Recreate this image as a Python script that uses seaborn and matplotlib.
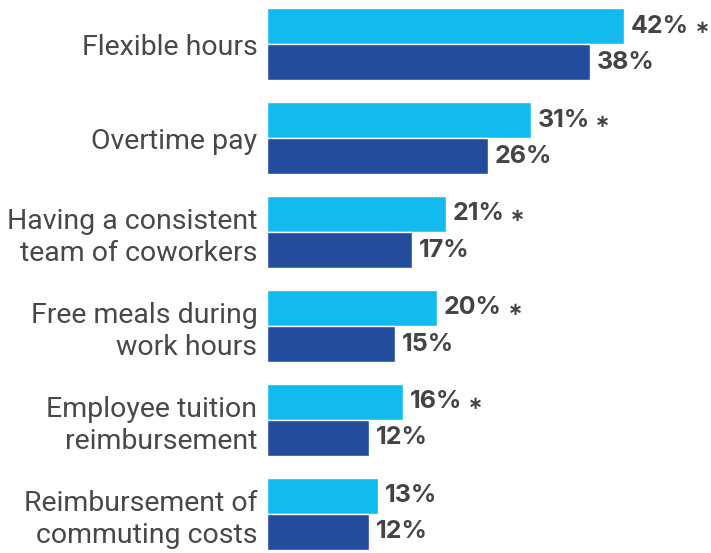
import pandas as pd
import seaborn as sns
import matplotlib.pyplot as plt

categories = ['Flexible hours', 'Overtime pay', 'Having a consistent\nteam of coworkers',
              'Free meals during\nwork hours', 'Employee tuition\nreimbursement',
              'Reimbursement of\ncommuting costs']
light_vals = [42, 31, 21, 20, 16, 13]
dark_vals = [38, 26, 17, 15, 12, 12]
significant = [True, True, True, True, True, False]

df = pd.DataFrame({
    'category': categories * 2,
    'series': ['light'] * len(categories) + ['dark'] * len(categories),
    'value': light_vals + dark_vals,
})

sns.set_style('white')
plt.rcParams['font.family'] = ['Roboto', 'DejaVu Sans']

fig = plt.figure(figsize=(7.11, 5.53), dpi=100)
ax = fig.add_axes([267 / 711, 3 / 553, 444 / 711, 542 / 553])

sns.barplot(data=df, y='category', x='value', hue='series', orient='h',
            palette={'light': '#13BAEE', 'dark': '#244C9C'}, width=0.766,
            saturation=1, legend=False, ax=ax)

ax.set_xlim(0, 444 / 8.5)
ax.set_ylim(5.383, -0.383)

# Value labels
light_labels = [f'{v}%' for v in light_vals]
dark_labels = [f'{v}%' for v in dark_vals]
val_font = dict(fontsize=18, fontweight='bold', color='#444444',
                family=['Inter', 'DejaVu Sans'])
light_txt = ax.bar_label(ax.containers[0], labels=light_labels, padding=5, **val_font)
ax.bar_label(ax.containers[1], labels=dark_labels, padding=5, **val_font)

ax.set_xlabel('')
ax.set_ylabel('')
ax.set_xticks([])
ax.tick_params(axis='y', length=0, pad=7, labelsize=20.5, labelcolor='#484848')
for lbl in ax.get_yticklabels():
    lbl.set_horizontalalignment('right')
    lbl.set_multialignment('right')
    lbl.set_linespacing(1.25)
for s in ax.spines.values():
    s.set_visible(False)

# asterisks for significant differences, placed after the value text
fig.canvas.draw()
for t, bar, s in zip(light_txt, ax.containers[0], significant):
    if s:
        bb = t.get_window_extent()
        ax.annotate('\u2217', xy=(bb.x1, bar.get_y() + bar.get_height() / 2),
                    xycoords=('figure pixels', 'data'), xytext=(4, -1.5),
                    textcoords='offset points', va='center', ha='left',
                    fontsize=13, fontweight='bold', color='#444444',
                    family=['DejaVu Sans'])

fig.savefig('out.png', dpi=100)
